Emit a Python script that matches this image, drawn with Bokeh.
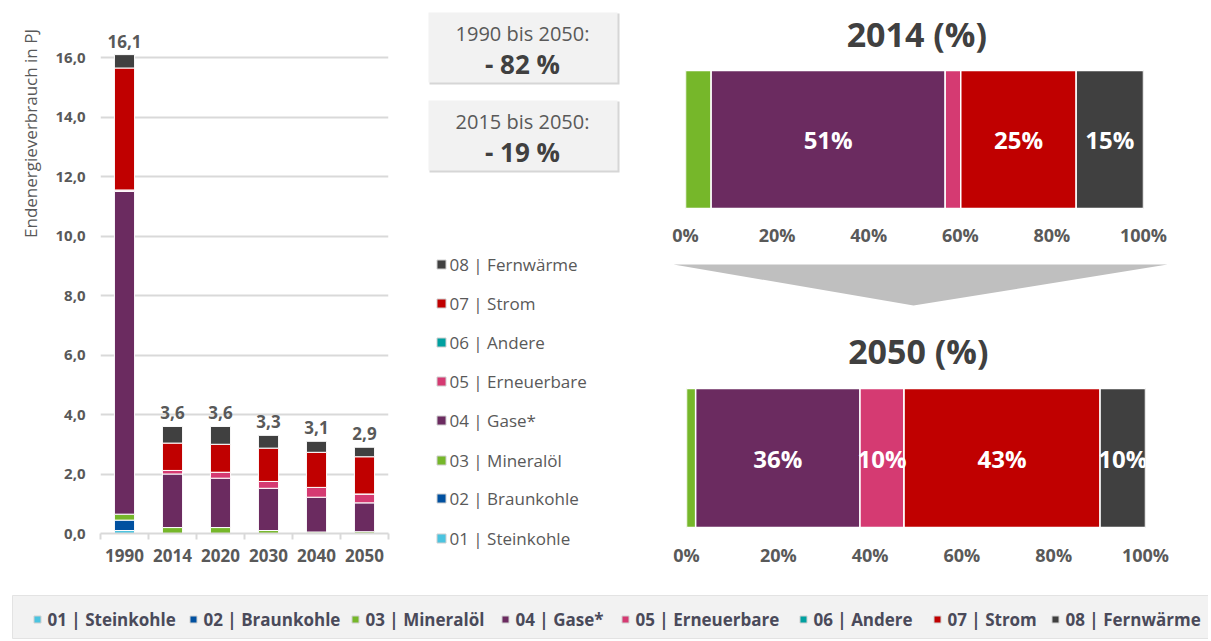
from bokeh.plotting import figure
from bokeh.layouts import row, column
from bokeh.models import ColumnDataSource, Range1d, FixedTicker, CustomJSTickFormatter
from bokeh.core.properties import value
from bokeh.embed import file_html
from bokeh.resources import INLINE
import math

# ---------------- data ----------------
years = ["1990", "2014", "2020", "2030", "2040", "2050"]
categories = ["01 | Steinkohle", "02 | Braunkohle", "03 | Mineralöl", "04 | Gase*",
              "05 | Erneuerbare", "06 | Andere", "07 | Strom", "08 | Fernwärme"]
colors = ["#4BC4E0", "#0050A0", "#76B72A", "#6B2B60", "#D53A72", "#00A0A0", "#C00000", "#404040"]

steinkohle  = [0.10, 0.00, 0.00, 0.00, 0.00, 0.00]
braunkohle  = [0.35, 0.00, 0.00, 0.00, 0.00, 0.00]
mineraloel  = [0.20, 0.20, 0.20, 0.10, 0.05, 0.06]
gase        = [10.85, 1.80, 1.66, 1.42, 1.17, 0.97]
erneuerbare = [0.05, 0.12, 0.20, 0.23, 0.33, 0.30]
andere      = [0.00, 0.00, 0.00, 0.00, 0.00, 0.00]
strom       = [4.10, 0.92, 0.94, 1.12, 1.18, 1.25]
fernwaerme  = [0.45, 0.56, 0.60, 0.43, 0.37, 0.32]

share_2014 = [0.0, 0.0, 5.6, 51.1, 3.4, 0.0, 25.2, 14.7]
share_2050 = [0.0, 0.0, 2.0, 35.8, 9.6, 0.0, 42.7, 9.9]

box_periods = ["1990 bis 2050:", "2015 bis 2050:"]
box_changes = ["- 82 %", "- 19 %"]

y_title = "Endenergieverbrauch in PJ"

# ---------------- styles ----------------
FONT = "Open Sans"
GREY = "#595959"
DARK = "#404040"
TOP_H = 588

series = [steinkohle, braunkohle, mineraloel, gase, erneuerbare, andere, strom, fernwaerme]
keys = ["s%d" % i for i in range(len(series))]


def clean(p):
    p.outline_line_color = None
    p.background_fill_color = "white"
    p.border_fill_color = "white"
    p.frame_align = False
    return p


def canvas(w, h):
    return clean(figure(width=w, height=h, x_range=Range1d(0, w), y_range=Range1d(h, 0),
                        x_axis_type=None, y_axis_type=None, min_border=0,
                        output_backend="svg", toolbar_location=None))


# ---------------- y-axis title strip ----------------
tfig = canvas(48, TOP_H)
tfig.text(x=[30], y=[133], text=[y_title], angle=math.pi / 2, text_align="center",
          text_baseline="middle", text_font=value(FONT), text_font_size="17px", text_color=GREY)

# ---------------- stacked bar chart ----------------
xc = [i + 0.5 for i in range(len(years))]
data = dict(x=xc)
for k, s in zip(keys, series):
    data[k] = s
src = ColumnDataSource(data)

left = clean(figure(width=372, height=TOP_H, x_range=Range1d(0, 6), y_range=Range1d(0, 17.18),
                    min_border_left=52, min_border_right=32, min_border_top=22, min_border_bottom=55,
                    output_backend="svg", toolbar_location=None))
left.vbar_stack(keys, x="x", width=0.42, color=colors, line_color="white", line_width=1, source=src)

totals = [round(sum(s[i] for s in series), 1) for i in range(len(years))]
total_labels = [("%.1f" % t).replace(".", ",") for t in totals]
left.text(x=xc, y=totals, text=total_labels, text_align="center", text_baseline="bottom",
          y_offset=-7, text_font=value(FONT), text_font_style="bold", text_font_size="17px",
          text_color=GREY)

yt = FixedTicker(ticks=[0, 2, 4, 6, 8, 10, 12, 14, 16])
left.yaxis.ticker = yt
left.ygrid.ticker = yt
left.yaxis.formatter = CustomJSTickFormatter(code="return tick.toFixed(1).replace('.', ',');")
left.yaxis.axis_line_color = None
left.yaxis.major_tick_line_color = None
left.yaxis.minor_tick_line_color = None
left.yaxis.major_tick_out = 0
left.yaxis.major_label_standoff = 15
left.yaxis.major_label_text_font = FONT
left.yaxis.major_label_text_font_style = "bold"
left.yaxis.major_label_text_font_size = "15px"
left.yaxis.major_label_text_color = GREY
left.ygrid.grid_line_color = "#d9d9d9"
left.ygrid.grid_line_width = 2

left.xaxis.ticker = FixedTicker(ticks=xc, minor_ticks=[0, 1, 2, 3, 4, 5, 6])
left.xaxis.formatter = CustomJSTickFormatter(args=dict(labels=years),
                                             code="return labels[Math.floor(tick)];")
left.xaxis.major_tick_line_color = None
left.xaxis.major_tick_out = 0
left.xaxis.minor_tick_line_color = "#d9d9d9"
left.xaxis.minor_tick_line_width = 2
left.xaxis.minor_tick_out = 6
left.xaxis.minor_tick_in = 0
left.xaxis.axis_line_color = "#d9d9d9"
left.xaxis.axis_line_width = 2
left.xaxis.major_label_standoff = 9
left.xaxis.major_label_text_font = FONT
left.xaxis.major_label_text_font_style = "bold"
left.xaxis.major_label_text_font_size = "17px"
left.xaxis.major_label_text_color = GREY
left.xgrid.visible = False

# ---------------- middle: boxes + legend ----------------
mid = canvas(240, TOP_H)
box_tops = [12, 100]
box_h = 70
mid.quad(left=[9, 9], right=[199, 199], top=[t + 1 for t in box_tops],
         bottom=[t + box_h + 2 for t in box_tops], color="#d6d6d6", line_color=None)
mid.quad(left=[8, 8], right=[197, 197], top=box_tops, bottom=[t + box_h for t in box_tops],
         color="#f2f2f2", line_color=None)
mid.text(x=[102, 102], y=[t + 21 for t in box_tops], text=box_periods, text_align="center",
         text_baseline="middle", text_font=value(FONT), text_font_size="20px", text_color=GREY)
mid.text(x=[102, 102], y=[t + 51 for t in box_tops], text=box_changes, text_align="center",
         text_baseline="middle", text_font=value(FONT), text_font_style="bold",
         text_font_size="26px", text_color=DARK)

leg_y = [538, 498, 460, 420, 381, 342, 303, 264]  # 01 at bottom ... 08 on top
mid.scatter(x=[21] * 8, y=leg_y, marker="square", size=9, color=colors, line_color="#cfcfcf",
            line_width=1)
mid.text(x=[29] * 8, y=leg_y, text=categories, text_align="left", text_baseline="middle",
         text_font=value(FONT), text_font_size="17px", text_color=GREY)

# ---------------- right: percentage bars ----------------
RW = 548


def share_fig(shares, title, height, y0, y1, title_y, mbl, mbr, mbt, mbb):
    d = dict(y=[0.5])
    for k, s in zip(keys, shares):
        d[k] = [s]
    p = clean(figure(width=RW, height=height, x_range=Range1d(0, 100), y_range=Range1d(y0, y1),
                     y_axis_type=None, min_border_left=mbl, min_border_right=mbr,
                     min_border_top=mbt, min_border_bottom=mbb,
                     output_backend="svg", toolbar_location=None))
    p.hbar_stack(keys, y="y", height=1, color=colors, line_color="white", line_width=1.5,
                 source=ColumnDataSource(d))
    cum = 0
    cx, lab = [], []
    for s in shares:
        if s >= 9:
            cx.append(cum + s / 2)
            lab.append("%d%%" % round(s))
        cum += s
    p.text(x=cx, y=[0.5] * len(cx), text=lab, text_align="center", text_baseline="middle",
           text_font=value(FONT), text_font_style="bold", text_font_size="24px", text_color="white")
    p.text(x=[50.5], y=[title_y], text=[title], text_align="center", text_baseline="middle",
           text_font=value(FONT), text_font_style="bold", text_font_size="34px", text_color=DARK)
    p.xaxis.ticker = FixedTicker(ticks=[0, 20, 40, 60, 80, 100])
    p.xaxis.formatter = CustomJSTickFormatter(code="return tick.toFixed(0) + '%';")
    p.xaxis.axis_line_color = None
    p.xaxis.major_tick_line_color = None
    p.xaxis.minor_tick_line_color = None
    p.xaxis.major_tick_out = 0
    p.xaxis.major_label_standoff = 6
    p.xaxis.major_label_text_font = FONT
    p.xaxis.major_label_text_font_style = "bold"
    p.xaxis.major_label_text_font_size = "18px"
    p.xaxis.major_label_text_color = GREY
    p.xgrid.visible = False
    return p


f2014 = share_fig(share_2014, "2014 (%)", 250, -0.058, 1.4203, 1.268, 25, RW - 483, 12, 34)

arrow = canvas(RW, 70)
arrow.patch(x=[13, 507, 253], y=[14, 14, 55], color="#bfbfbf", line_color=None)

f2050 = share_fig(share_2050, "2050 (%)", 268, -0.0647, 1.4604, 1.273, 26, RW - 485, 4, 52)

right = column(f2014, arrow, f2050, spacing=0)

# ---------------- bottom legend ----------------
bot = canvas(1208, 52)
bot.quad(left=[12], right=[1208], top=[7], bottom=[50], color="#f2f2f2", line_color="#e3e3e3",
         line_width=1)
bx = [47, 203, 365, 515, 635, 813, 947, 1065]
bot.scatter(x=[v - 10 for v in bx], y=[31] * 8, marker="square", size=7, color=colors,
            line_color="#d0d0d0", line_width=1)
bot.text(x=bx, y=[31] * 8, text=categories, text_align="left", text_baseline="middle",
         text_font=value(FONT), text_font_style="bold", text_font_size="17px", text_color="#4a4a5a")

layout = column(row(tfig, left, mid, right, spacing=0), bot, spacing=0)

open("out.html", "w").write(file_html(layout, INLINE, title="Endenergieverbrauch"))
